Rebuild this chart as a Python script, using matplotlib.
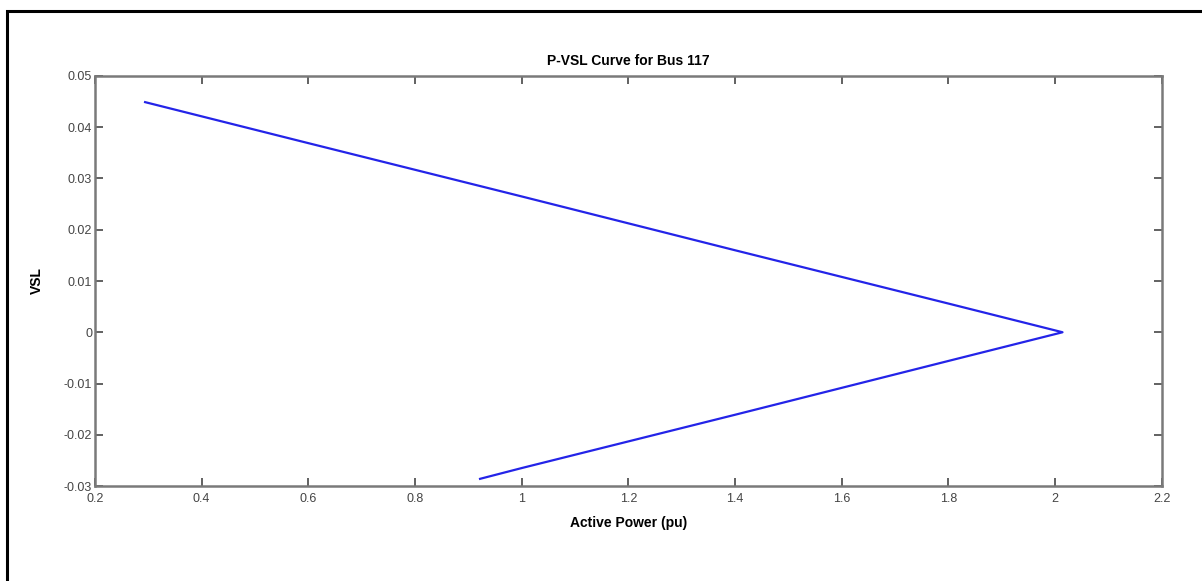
import matplotlib
matplotlib.use('Agg')
import matplotlib.pyplot as plt
from matplotlib.patches import Rectangle

# P-VSL trace for bus 117: upper branch out to the nose, then the lower branch back
power_upper = [0.294, 0.6, 1.0, 1.4, 1.8, 2.014]
vsl_upper = [0.0449, 0.0369, 0.0265, 0.0160, 0.0056, 0.0]
power_lower = [1.8, 1.4, 1.0, 0.922]
vsl_lower = [-0.0056, -0.0161, -0.0265, -0.0286]

x_ticks = [0.2, 0.4, 0.6, 0.8, 1, 1.2, 1.4, 1.6, 1.8, 2, 2.2]
x_tick_labels = ['0.2', '0.4', '0.6', '0.8', '1', '1.2', '1.4', '1.6', '1.8', '2', '2.2']
y_ticks = [-0.03, -0.02, -0.01, 0, 0.01, 0.02, 0.03, 0.04, 0.05]
y_tick_labels = ['-0.03', '-0.02', '-0.01', '0', '0.01', '0.02', '0.03', '0.04', '0.05']

plt.rcParams['font.family'] = ['Liberation Sans', 'DejaVu Sans']

fig = plt.figure(figsize=(12.02, 5.81), dpi=100)
ax = fig.add_axes([0.079, 0.1635, 0.8875, 0.7057])

power = power_upper + power_lower
vsl = vsl_upper + vsl_lower
ax.plot(power, vsl, color='#2424e8', lw=1.6)

ax.set_xlim(0.2, 2.2)
ax.set_ylim(-0.03, 0.05)
ax.set_xticks(x_ticks)
ax.set_xticklabels(x_tick_labels)
ax.set_yticks(y_ticks)
ax.set_yticklabels(y_tick_labels)

spine_col = '#7a7a7a'
for s in ax.spines.values():
    s.set_color(spine_col)
    s.set_linewidth(1.8)
ax.tick_params(direction='in', top=True, right=True, length=6, width=1.3,
               color='#555555', labelsize=9, labelcolor='#444444')
ax.tick_params(axis='x', pad=5)
ax.tick_params(axis='y', pad=2)

ax.set_title('P-VSL Curve for Bus 117', fontsize=10, fontweight='bold', pad=8)
ax.set_xlabel('Active Power (pu)', fontsize=10, fontweight='bold', labelpad=8)
ax.set_ylabel('VSL', fontsize=10, fontweight='bold', labelpad=14)

# outer frame, running off the right and bottom edges
fig.patches.append(Rectangle((7 / 1202, -0.1), 1.2, 1.1 - 11 / 581,
                             transform=fig.transFigure, fill=False,
                             edgecolor='black', lw=2.2))

fig.savefig('out.png', dpi=100)
